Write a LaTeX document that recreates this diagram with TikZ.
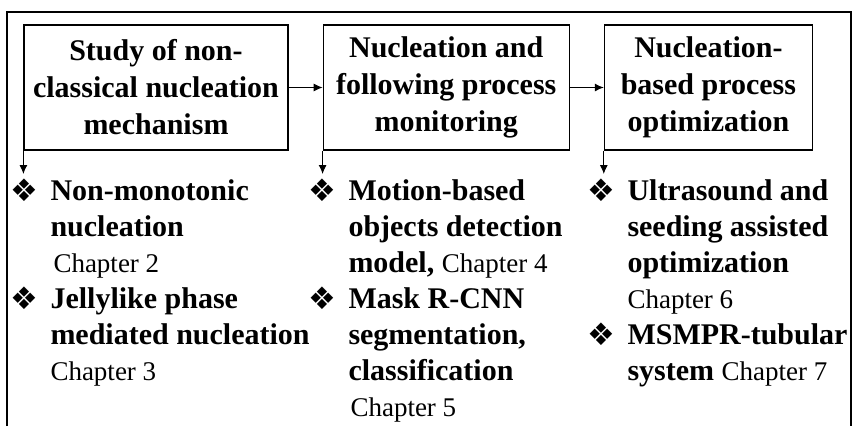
\documentclass[tikz,border=0pt]{standalone}
\usepackage{fontspec}
\setmainfont{Liberation Serif}
\newfontfamily\dingfont{DejaVu Sans}
\usetikzlibrary{arrows.meta,positioning}
\tikzstyle{blk}=[draw,line width=1.2pt,inner sep=0pt,minimum height=125pt,align=center,font=\fontsize{30}{37}\selectfont\bfseries]
\tikzstyle{lst}=[inner sep=0pt,align=left,font=\fontsize{30}{36}\selectfont\bfseries]
\newcommand{\bul}{\llap{\raisebox{-1pt}{\dingfont\fontsize{31}{31}\selectfont ❖}\hspace{12pt}}}
\newcommand{\chap}[1]{{\mdseries\fontsize{27}{36}\selectfont #1}}

\begin{document}
\begin{tikzpicture}[x=1pt,y=-1pt,>={Latex[length=9pt,width=8pt]},line width=1pt,auto]
  \useasboundingbox (0,0) rectangle (854,426);
  \draw[line width=1.5pt] (7,426) -- (7,12) -- (851,12) -- (851,426);

  \node [blk,minimum width=264pt] (k1) at (156,87.5) {Study of non-\\classical nucleation\\mechanism};
  \node [blk,minimum width=246pt,right=34pt of k1] (k2) {Nucleation and\\following process\\monitoring};
  \node [blk,minimum width=208pt,right=34pt of k2] (k3) {Nucleation-\\based process\\optimization};

  \node [lst,anchor=north west] (l1) at (50,178) {\bul Non-monotonic\\nucleation\\\hspace{3pt}\chap{Chapter 2}\\\bul Jellylike phase\\mediated nucleation\\\chap{Chapter 3}};
  \node [lst,anchor=north west] (l2) at (348,178) {\bul Motion-based\\objects detection\\model, \chap{Chapter 4}\\\bul Mask R-CNN\\segmentation,\\classification\\\hspace{2pt}\chap{Chapter 5}};
  \node [lst,anchor=north west] (l3) at (627,178) {\bul Ultrasound and\\seeding assisted\\optimization\\\chap{Chapter 6}\\\bul MSMPR-tubular\\system \chap{Chapter 7}};

  \draw[->] (k1) -- (k2);
  \draw[->] (k2) -- (k3);
  \draw[->,shorten >=4pt] (k1.south west) -- (k1.south west |- l1.north);
  \draw[->,shorten >=4pt] (k2.south west) -- (k2.south west |- l2.north);
  \draw[->,shorten >=4pt] (k3.south west) -- (k3.south west |- l3.north);
\end{tikzpicture}
\end{document}
